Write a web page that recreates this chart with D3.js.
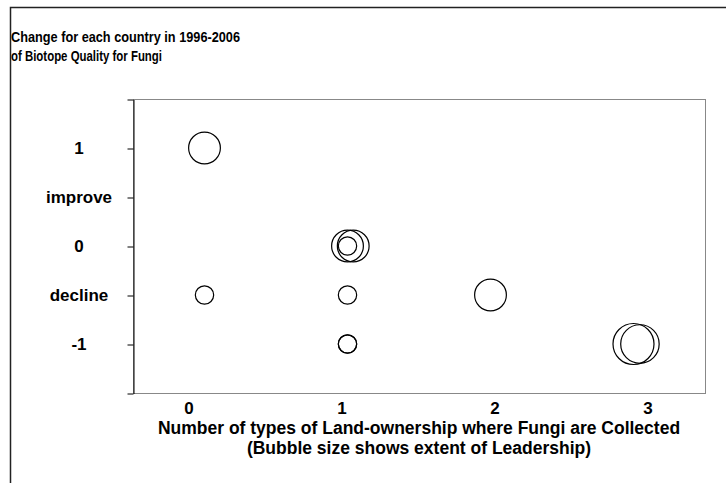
<!DOCTYPE html>
<html>
<head>
<meta charset="utf-8">
<script src="https://cdn.jsdelivr.net/npm/d3@7"></script>
<style>
  body { margin: 0; background: #fff; }
  text { font-family: "Liberation Sans", Arial, sans-serif; font-weight: bold; fill: #000; }
</style>
</head>
<body>
<svg width="726" height="483"></svg>
<script>
// bubble data: x = number of land-ownership types, y = change, size = leadership
const xValues = [0, 0, 1, 1.04, 1, 1, 1, 1, 2, 3, 3.045];
const yValues = [1, -0.5, 0, 0, 0, -0.5, -1, -1, -0.5, -1, -1];
const sizes = [3, 1, 3, 3, 1, 1, 1, 1, 3, 5, 4.4];

const yTickValues = [-1.5, -1, -0.5, 0, 0.5, 1, 1.5];
const yLabelValues = [1, 0.5, 0, -0.5, -1];
const yLabels = ["1", "improve", "0", "decline", "-1"];
const xLabelValues = [0, 1, 2, 3];
const xLabels = ["0", "1", "2", "3"];

const titleLines = ["Change for each country in 1996-2006", "of Biotope Quality for Fungi"];
const xTitleLines = ["Number of types of Land-ownership where Fungi are Collected",
                     "(Bubble size shows extent of Leadership)"];

const svg = d3.select("svg");

const plot = { left: 133, right: 705, top: 99, bottom: 393 };

const x = d3.scaleLinear().domain([-0.5, 3.5]).range([plot.left, plot.right]);
const y = d3.scaleLinear().domain([-1.5, 1.5]).range([plot.bottom, plot.top]);
const r = d3.scaleSqrt().domain([0, 5]).range([0, 20.5]);
// category labels sit on their own slightly wider spacing under the plot
const xLabelScale = d3.scaleLinear().domain([0, 3]).range([189, 648]);

// outer chart frame (top and left edges visible)
svg.append("path")
  .attr("d", "M10.5,483 L10.5,7.5 L726,7.5")
  .attr("fill", "none")
  .attr("stroke", "#222")
  .attr("stroke-width", 1.5);

// title
const titleWidths = [229, 151];
svg.append("g").selectAll("text")
  .data(titleLines)
  .enter()
  .append("text")
  .attr("x", 11)
  .attr("y", (d, i) => 42 + i * 19)
  .attr("textLength", (d, i) => titleWidths[i])
  .attr("lengthAdjust", "spacingAndGlyphs")
  .style("font-size", "15px")
  .text(d => d);

// plot area border (grey)
svg.append("rect")
  .attr("x", plot.left + 0.5)
  .attr("y", plot.top + 0.5)
  .attr("width", plot.right - plot.left)
  .attr("height", plot.bottom - plot.top)
  .attr("fill", "none")
  .attr("stroke", "#888");

// y axis with ticks, no default labels
const yAxis = svg.append("g")
  .attr("transform", `translate(${plot.left + 0.5},0.5)`)
  .call(d3.axisLeft(y).tickValues(yTickValues).tickSize(6).tickSizeOuter(0).tickFormat(""));
yAxis.select(".domain").attr("stroke", "#000");
yAxis.selectAll(".tick line").attr("stroke", "#000");

svg.append("g").selectAll("text")
  .data(yLabelValues)
  .enter()
  .append("text")
  .attr("x", 79)
  .attr("y", d => y(d) + 6)
  .attr("text-anchor", "middle")
  .style("font-size", "17px")
  .text((d, i) => yLabels[i]);

// x labels
svg.append("g").selectAll("text")
  .data(xLabelValues)
  .enter()
  .append("text")
  .attr("x", d => xLabelScale(d))
  .attr("y", 414)
  .attr("text-anchor", "middle")
  .style("font-size", "17px")
  .text((d, i) => xLabels[i]);

svg.append("g").selectAll("text")
  .data(xTitleLines)
  .enter()
  .append("text")
  .attr("x", (plot.left + plot.right) / 2)
  .attr("y", (d, i) => 434 + i * 20)
  .attr("text-anchor", "middle")
  .style("font-size", "17.5px")
  .text(d => d);

// bubbles
svg.append("g").selectAll("circle")
  .data(xValues)
  .enter()
  .append("circle")
  .attr("cx", (d, i) => x(d))
  .attr("cy", (d, i) => y(yValues[i]))
  .attr("r", (d, i) => r(sizes[i]))
  .attr("fill", "none")
  .attr("stroke", "#000")
  .attr("stroke-width", 1.2);
</script>
</body>
</html>
